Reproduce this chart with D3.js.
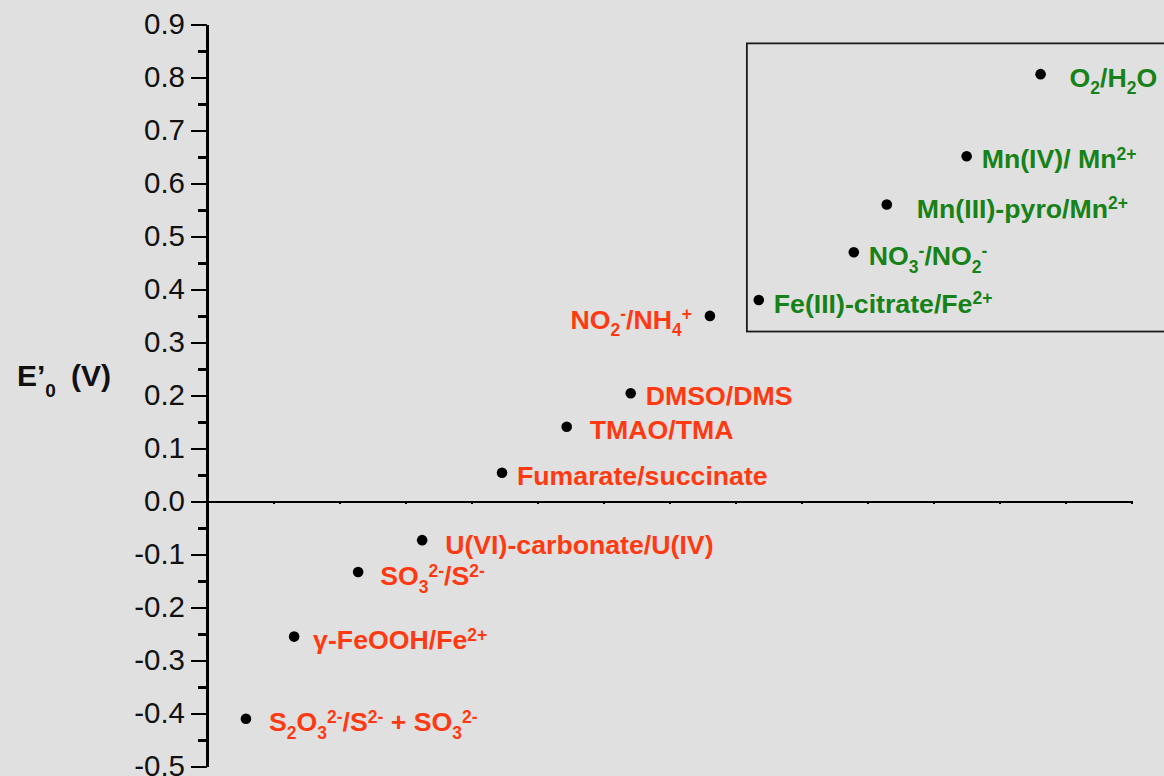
<!DOCTYPE html>
<meta charset="utf-8">
<html>
<head>
  <script src="https://d3js.org/d3.v7.min.js"></script>
  <style>
    body {
      margin: 0;
      background: #e0e0e0;
      font-family: "Liberation Sans", Arial, sans-serif;
    }

    .axis path,
    .axis line {
      stroke: #000;
      stroke-width: 2.6;
      shape-rendering: crispEdges;
    }

    .axis text {
      font-family: "Liberation Sans", Arial, sans-serif;
      font-size: 29.5px;
      fill: #111;
    }

    .couple {
      font-weight: bold;
      font-size: 26.7px;
      white-space: pre;
    }
  </style>
</head>

<body>
  <script>
    // redox couples, ordered by potential
    var couples = [
      "S{_2}O{_3}{^2-}/S{^2-} + SO{_3}{^2-}",
      "\u03b3-FeOOH/Fe{^2+}",
      "SO{_3}{^2-}/S{^2-}",
      "U(VI)-carbonate/U(IV)",
      "Fumarate/succinate",
      "TMAO/TMA",
      "DMSO/DMS",
      "NO{_2}{^-}/NH{_4}{^+}",
      "Fe(III)-citrate/Fe{^2+}",
      "NO{_3}{^-}/NO{_2}{^-}",
      "Mn(III)-pyro/Mn{^2+}",
      "Mn(IV)/ Mn{^2+}",
      "O{_2}/H{_2}O"
    ];
    // horizontal position (arbitrary units, one per x tick)
    var xPos = [0.59, 1.32, 2.29, 3.26, 4.47, 5.45, 6.42, 7.62, 8.36, 9.8, 10.3, 11.51, 12.63];
    // E'0 in volts
    var potentials = [-0.41, -0.255, -0.133, -0.073, 0.054, 0.141, 0.204, 0.35, 0.38, 0.47, 0.56, 0.651, 0.806];
    // which couples sit in the boxed (high potential) group
    var group = ["low", "low", "low", "low", "low", "low", "low", "low", "high", "high", "high", "high", "high"];

    var yTicks = [-0.5, -0.4, -0.3, -0.2, -0.1, 0.0, 0.1, 0.2, 0.3, 0.4, 0.5, 0.6, 0.7, 0.8, 0.9];
    var yMinorTicks = [-0.45, -0.35, -0.25, -0.15, -0.05, 0.05, 0.15, 0.25, 0.35, 0.45, 0.55, 0.65, 0.75, 0.85];
    var xTicks = [1, 2, 3, 4, 5, 6, 7, 8, 9, 10, 11, 12, 13, 14];
    // boxed region, in data units
    var boxX = [8.18, 15];
    var boxY = [0.3205, 0.864];

    // label placement relative to each dot (dx, dy, anchor)
    var labelPlace = [
      [23, 12.5, "start"], [19, 12.5, "start"], [22, 13.5, "start"], [23, 13.5, "start"],
      [15, 12.5, "start"], [23, 12.5, "start"], [15, 12, "start"], [-18, 13, "end"],
      [15, 13, "start"], [15, 13, "start"], [30, 13, "start"], [15, 12, "start"], [29, 12.5, "start"]
    ];
    var colors = { low: "#ff3a12", high: "#178217" };

    var width = 1164, height = 776;

    var svg = d3.select("body").append("svg")
      .attr("width", width)
      .attr("height", height)
      .style("display", "block")
      .style("background", "#e0e0e0");

    var x = d3.scaleLinear().domain([0, 14]).range([207, 1131]);
    var y = d3.scaleLinear().domain([-0.5, 0.9]).range([766.5, 24.3]);

    // box around the high potential couples
    svg.append("rect")
      .attr("x", x(boxX[0]))
      .attr("y", y(boxY[1]))
      .attr("width", x(boxX[1]) - x(boxX[0]))
      .attr("height", y(boxY[0]) - y(boxY[1]))
      .style("fill", "none")
      .style("stroke", "#1a1a1a")
      .style("stroke-width", 1.8);

    // x axis along E'0 = 0
    var xAxis = svg.append("g")
      .attr("class", "axis")
      .attr("transform", "translate(0," + y(0) + ")")
      .call(d3.axisBottom(x).tickValues(xTicks).tickSize(3).tickSizeOuter(0).tickFormat(""));
    xAxis.selectAll("line").style("stroke-width", 2);

    // y axis, minor ticks first
    svg.append("g")
      .attr("class", "axis")
      .attr("transform", "translate(" + x(0) + ",0)")
      .call(d3.axisLeft(y).tickValues(yMinorTicks).tickSize(9).tickSizeOuter(0).tickFormat(""));

    svg.append("g")
      .attr("class", "axis")
      .attr("transform", "translate(" + x(0) + ",0)")
      .call(d3.axisLeft(y).tickValues(yTicks).tickSize(16).tickSizeOuter(0).tickPadding(6)
        .tickFormat(function (d) { return d3.format(".1f")(d).replace("\u2212", "-"); }));

    // axis title  E'0 (V)
    var title = svg.append("text")
      .attr("x", 17)
      .attr("y", 386)
      .style("font-weight", "bold")
      .style("font-size", "30px")
      .style("fill", "#111");
    title.append("tspan").text("E\u2019");
    title.append("tspan").attr("dy", 11).style("font-size", "19px").text("0");
    title.append("tspan").attr("x", 71).attr("dy", -11).text("(V)");

    // text with {_sub} and {^sup} parts
    function richText(sel, str) {
      var parts = str.split(/(\{[_^][^}]*\})/).filter(function (s) { return s.length; });
      var cur = 0;
      parts.forEach(function (p) {
        var m = p.match(/^\{([_^])(.*)\}$/);
        var target = 0, size = null, t = p;
        if (m) {
          target = m[1] == "_" ? 7.5 : -8.5;
          size = "17.5px";
          t = m[2];
        }
        sel.append("tspan")
          .attr("dy", target - cur)
          .style("font-size", size)
          .text(t);
        cur = target;
      });
    }

    var idx = d3.range(couples.length);

    svg.selectAll(".dot")
      .data(idx)
      .enter().append("circle")
      .attr("class", "dot")
      .attr("cx", function (i) { return x(xPos[i]); })
      .attr("cy", function (i) { return y(potentials[i]); })
      .attr("r", 5.3)
      .style("fill", "#000");

    svg.selectAll(".couple")
      .data(idx)
      .enter().append("text")
      .attr("class", "couple")
      .attr("x", function (i) { return x(xPos[i]) + labelPlace[i][0]; })
      .attr("y", function (i) { return y(potentials[i]) + labelPlace[i][1]; })
      .attr("text-anchor", function (i) { return labelPlace[i][2]; })
      .style("fill", function (i) { return colors[group[i]]; })
      .each(function (i) { richText(d3.select(this), couples[i]); });
  </script>
</body>

</html>
